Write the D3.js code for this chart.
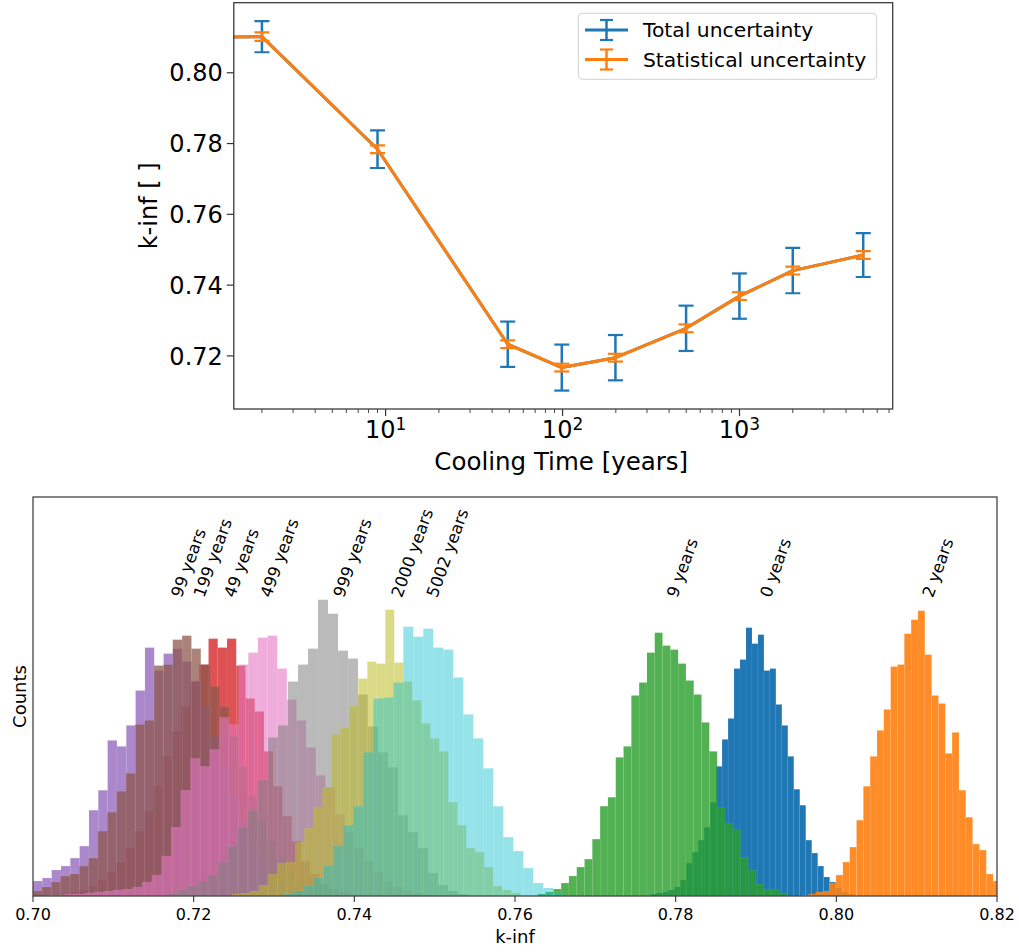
<!DOCTYPE html>
<html><head><meta charset="utf-8">
<script src="https://cdn.jsdelivr.net/npm/d3@7"></script>
<style>body{margin:0;background:#fff}svg{display:block;font-family:"DejaVu Sans",sans-serif}</style>
</head><body><svg id="c" width="1019" height="952"></svg>
<script>
// ---------------- data ----------------
const coolingTimes = [0, 2, 9, 49, 99, 199, 499, 999, 2000, 5002];
const kinfMean     = [0.7900, 0.8102, 0.7784, 0.7233, 0.7167, 0.7195, 0.7278, 0.7369, 0.7441, 0.7485];
const totalUnc     = [0.0047, 0.0044, 0.0053, 0.0064, 0.0065, 0.0064, 0.0064, 0.0064, 0.0064, 0.0062];
const statUnc      = [0.0011, 0.0012, 0.0011, 0.0011, 0.0011, 0.0011, 0.0011, 0.0011, 0.0011, 0.0011];
const seriesLabels = ["0 years","2 years","9 years","49 years","99 years","199 years","499 years","999 years","2000 years","5002 years"];
const legendLabels = ["Total uncertainty", "Statistical uncertainty"];
const topYTicks = [0.72, 0.74, 0.76, 0.78, 0.80];
const topXTicks = [10, 100, 1000];
const bottomXTicks = [0.70, 0.72, 0.74, 0.76, 0.78, 0.80, 0.82];

// histogram bins: first bin left edge and bin width per series (k-inf units)
const binStart = [0.77685, 0.795714, 0.76283, 0.7023, 0.695356, 0.69761, 0.7016, 0.716805, 0.724809, 0.731158];
const binWidth = [0.000744, 0.000850, 0.000971, 0.00115, 0.001161, 0.001164, 0.0012, 0.001245, 0.0011203, 0.001245];

const counts0yr    = [2,3,4,6,9,16,33,44,56,69,94,130,157,178,228,237,269,253,262,226,228,192,171,140,107,91,56,43,30,19,14,8,4,2];
const counts2yr    = [1,2,4,5,13,21,34,49,76,110,140,166,187,230,232,263,277,286,242,201,193,143,164,106,79,52,46,22,15,8,4];
const counts9yr    = [2,4,7,13,20,29,37,57,90,99,139,150,201,214,244,264,251,247,233,216,202,174,145,89,73,67,39,26,12,7,7,3];
const counts49yr   = [1,2,4,6,10,16,24,34,48,65,85,110,140,165,190,215,232,258,249,258,231,198,185,145,110,80,55,35,22,12,7,4,2];
const counts99yr   = [2,4,7,10,15,18,26,30,38,50,86,106,156,150,171,206,249,226,243,248,235,215,190,160,130,100,75,52,35,22,13,7,4,2];
const counts199yr  = [1,3,5,9,14,20,22,30,38,65,84,105,123,172,176,231,232,257,261,248,232,210,190,160,130,100,75,55,38,26,16,10,6,3,2];
const counts499yr  = [1,1,2,2,3,4,5,6,7,9,14,21,40,69,106,138,130,147,179,172,232,244,259,261,228,197,176,149,121,109,82,64,48,35,24,15,9,5,3,1];
const counts999yr  = [3,6,10,15,21,34,50,69,86,116,159,171,215,232,248,297,283,246,238,202,170,144,129,81,64,48,23,11,5,2];
const counts2000yr = [2,3,5,11,22,33,34,54,68,89,109,162,169,191,218,235,233,287,234,215,196,173,158,145,94,71,48,44,29,10,6,3];
const counts5002yr = [2,5,10,18,30,50,71,90,144,198,199,214,270,260,268,249,247,219,182,158,128,90,59,45,28,13,8,3];
const histCounts = [counts0yr, counts2yr, counts9yr, counts49yr, counts99yr, counts199yr, counts499yr, counts999yr, counts2000yr, counts5002yr];
const labelCount = 297; // height (count units) where the rotated labels sit

// ---------------- styles ----------------
const colors = ["#1f77b4","#ff7f0e","#2ca02c","#d62728","#9467bd","#8c564b","#e377c2","#7f7f7f","#bcbd22","#17becf"];
const alphas = [1.0, 0.9, 0.82, 0.8, 0.78, 0.74, 0.6, 0.54, 0.54, 0.45];
const spine = "#333";

const svg = d3.select("#c");

// ================= TOP PANEL =================
const T = {l: 233.8, r: 892.7, t: 2.7, b: 409};
const xT = d3.scaleLog().domain([1.387, 7341]).range([T.l, T.r]);
const yT = d3.scaleLinear().domain([0.7050, 0.8198]).range([T.b, T.t]);
const tx = t => xT(Math.max(t, 1e-30));

svg.append("clipPath").attr("id","clipT").append("rect")
  .attr("x", T.l).attr("y", T.t).attr("width", T.r - T.l).attr("height", T.b - T.t);

const gT = svg.append("g").attr("clip-path","url(#clipT)");
const idx = d3.range(coolingTimes.length);
const line = d3.line().x(i => tx(coolingTimes[i])).y(i => yT(kinfMean[i]));
const capHalf = 7.5;

function errorbar(g, err, color){
  g.append("path").attr("d", line(idx)).attr("fill","none").attr("stroke",color)
    .attr("stroke-width",3).attr("stroke-linejoin","round");
  idx.forEach(i => {
    const x = tx(coolingTimes[i]), y1 = yT(kinfMean[i] - err[i]), y2 = yT(kinfMean[i] + err[i]);
    g.append("line").attr("x1",x).attr("x2",x).attr("y1",y1).attr("y2",y2)
      .attr("stroke",color).attr("stroke-width",2.5);
    [y1,y2].forEach(y => g.append("line").attr("x1",x-capHalf).attr("x2",x+capHalf)
      .attr("y1",y).attr("y2",y).attr("stroke",color).attr("stroke-width",2.2));
  });
}
errorbar(gT, totalUnc, colors[0]);
errorbar(gT, statUnc, colors[1]);

// frame
svg.append("rect").attr("x",T.l).attr("y",T.t).attr("width",T.r-T.l).attr("height",T.b-T.t)
  .attr("fill","none").attr("stroke",spine).attr("stroke-width",1.25);

// y ticks
topYTicks.forEach(v => {
  const y = yT(v);
  svg.append("line").attr("x1",T.l-7).attr("x2",T.l).attr("y1",y).attr("y2",y).attr("stroke",spine).attr("stroke-width",1.2);
  svg.append("text").attr("x",T.l-11).attr("y",y).attr("dy","0.36em").attr("text-anchor","end")
    .attr("font-size",24).attr("fill","#000").text(v.toFixed(2));
});
// x ticks major + minor
const [d0, d1] = xT.domain();
for (let e = Math.floor(Math.log10(d0)); e <= Math.ceil(Math.log10(d1)); e++) {
  for (let m = 1; m <= 9; m++) {
    const v = m * Math.pow(10, e);
    if (v < d0 || v > d1) continue;
    const x = xT(v), major = (m === 1);
    svg.append("line").attr("x1",x).attr("x2",x).attr("y1",T.b).attr("y2",T.b + (major?7:4))
      .attr("stroke",spine).attr("stroke-width",major?1.2:0.9);
  }
}
topXTicks.forEach(v => {
  const t = svg.append("text").attr("x", xT(v)).attr("y", 438).attr("text-anchor","middle")
    .attr("font-size",24).attr("fill","#000");
  t.append("tspan").text("10");
  t.append("tspan").attr("dy","-0.45em").attr("font-size",17).text(String(Math.round(Math.log10(v))));
});
svg.append("text").attr("x",(T.l+T.r)/2 - 2).attr("y",470).attr("text-anchor","middle")
  .attr("font-size",24.5).text("Cooling Time [years]");
svg.append("text").attr("transform",`translate(157,${(T.t+T.b)/2}) rotate(-90)`)
  .attr("text-anchor","middle").attr("font-size",24).text("k-inf [ ]");

// legend
const L = {x: 578.3, y: 13.3, w: 298.4, h: 66};
svg.append("rect").attr("x",L.x).attr("y",L.y).attr("width",L.w).attr("height",L.h).attr("rx",4)
  .attr("fill","#fff").attr("fill-opacity",0.8).attr("stroke","#d0d0d0").attr("stroke-width",1);
legendLabels.forEach((lab, i) => {
  const y = 30 + i * 29.5, c = colors[i], hx = 606.5;
  svg.append("line").attr("x1",585).attr("x2",628).attr("y1",y).attr("y2",y).attr("stroke",c).attr("stroke-width",3);
  svg.append("line").attr("x1",hx).attr("x2",hx).attr("y1",y-10).attr("y2",y+10).attr("stroke",c).attr("stroke-width",2.5);
  [y-10, y+10].forEach(yy => svg.append("line").attr("x1",hx-6.5).attr("x2",hx+6.5).attr("y1",yy).attr("y2",yy)
    .attr("stroke",c).attr("stroke-width",2.2));
  svg.append("text").attr("x",643).attr("y",y).attr("dy","0.36em").attr("font-size",20.3).text(lab);
});

// ================= BOTTOM PANEL =================
const B = {l: 33, r: 997, t: 497, b: 896};
const xB = d3.scaleLinear().domain([0.70, 0.82]).range([B.l, B.r]);
const yB = d3.scaleLinear().domain([0, 400]).range([B.b, B.t]);

svg.append("clipPath").attr("id","clipB").append("rect")
  .attr("x", B.l).attr("y", B.t).attr("width", B.r - B.l).attr("height", B.b - B.t);
const gB = svg.append("g").attr("clip-path","url(#clipB)");

histCounts.forEach((counts, s) => {
  const g = gB.append("g");
  counts.forEach((c, i) => {
    const x0 = xB(binStart[s] + i * binWidth[s]);
    const x1 = xB(binStart[s] + (i + 1) * binWidth[s]);
    g.append("rect").attr("x", x0).attr("width", x1 - x0)
      .attr("y", yB(c)).attr("height", yB(0) - yB(c))
      .attr("fill", colors[s]).attr("fill-opacity", alphas[s])
      .attr("stroke", "#fff").attr("stroke-opacity", 0.1).attr("stroke-width", 0.5);
  });
});

// rotated labels at each series mean
const fs = 16.5, asc = 0.93 * fs, desc = 0.24 * fs;
seriesLabels.forEach((lab, s) => {
  const X = xB(kinfMean[s]), Y = yB(labelCount);
  svg.append("text").attr("font-size", fs).attr("fill","#000")
    .attr("transform", `translate(${X + 0.94 * asc},${Y - 0.342 * desc}) rotate(-70)`)
    .text(lab);
});

svg.append("rect").attr("x",B.l).attr("y",B.t).attr("width",B.r-B.l).attr("height",B.b-B.t)
  .attr("fill","none").attr("stroke","#444").attr("stroke-width",1.3);

bottomXTicks.forEach(v => {
  const x = xB(v);
  svg.append("line").attr("x1",x).attr("x2",x).attr("y1",B.b).attr("y2",B.b+6).attr("stroke","#333").attr("stroke-width",1.1);
  svg.append("text").attr("x",x).attr("y",920).attr("text-anchor","middle").attr("font-size",16).text(v.toFixed(2));
});
svg.append("text").attr("x",(B.l+B.r)/2).attr("y",943).attr("text-anchor","middle").attr("font-size",18).text("k-inf");
svg.append("text").attr("transform",`translate(26,${(B.t+B.b)/2}) rotate(-90)`)
  .attr("text-anchor","middle").attr("font-size",18).text("Counts");
</script></body></html>
